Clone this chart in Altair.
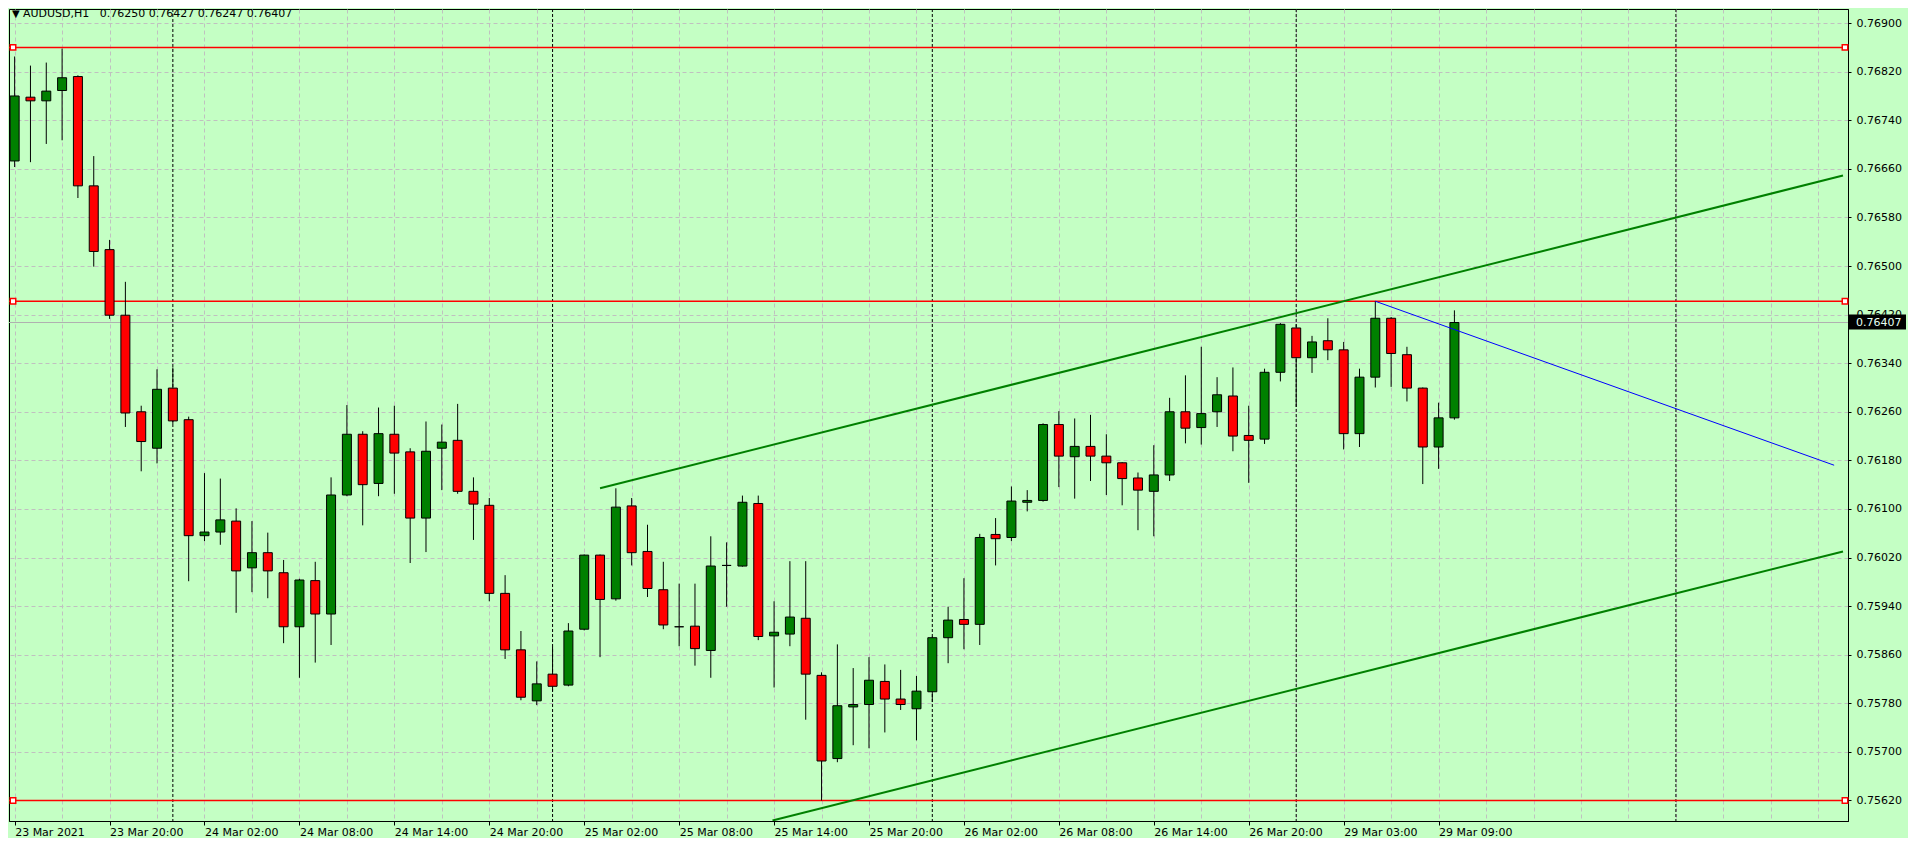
import json
import altair as alt
import pandas as pd

# ---------------- data ----------------
opens = [0.76673, 0.76778, 0.76772, 0.76789, 0.76812, 0.76632, 0.76527, 0.76419, 0.76260, 0.76200,
         0.76299, 0.76247, 0.76056, 0.76062, 0.76080, 0.76003, 0.76028, 0.75995, 0.75906, 0.75982,
         0.75927, 0.76123, 0.76223, 0.76142, 0.76223, 0.76194, 0.76085, 0.76200, 0.76213, 0.76129,
         0.76106, 0.75961, 0.75868, 0.75784, 0.75828, 0.75810, 0.75902, 0.76024, 0.75952, 0.76105,
         0.76030, 0.75967, 0.75906, 0.75907, 0.75867, 0.76007, 0.76006, 0.76109, 0.75891, 0.75894,
         0.75920, 0.75826, 0.75689, 0.75774, 0.75778, 0.75816, 0.75787, 0.75771, 0.75799, 0.75888,
         0.75918, 0.75910, 0.76058, 0.76053, 0.76111, 0.76114, 0.76239, 0.76186, 0.76203, 0.76187,
         0.76176, 0.76151, 0.76129, 0.76156, 0.76260, 0.76234, 0.76260, 0.76286, 0.76221, 0.76215,
         0.76325, 0.76398, 0.76349, 0.76377, 0.76362, 0.76224, 0.76317, 0.76414, 0.76354, 0.76299,
         0.76202, 0.76250]
highs = [0.76845, 0.76830, 0.76835, 0.76858, 0.76814, 0.76681, 0.76543, 0.76474, 0.76270, 0.76330,
         0.76333, 0.76252, 0.76159, 0.76150, 0.76101, 0.76080, 0.76061, 0.76016, 0.75985, 0.76013,
         0.76152, 0.76271, 0.76228, 0.76267, 0.76270, 0.76200, 0.76244, 0.76239, 0.76273, 0.76152,
         0.76118, 0.75991, 0.75899, 0.75849, 0.75873, 0.75912, 0.76025, 0.76025, 0.76134, 0.76118,
         0.76074, 0.76013, 0.75977, 0.75977, 0.76055, 0.76045, 0.76122, 0.76122, 0.75948, 0.76014,
         0.76014, 0.75831, 0.75877, 0.75838, 0.75856, 0.75844, 0.75835, 0.75825, 0.75890, 0.75939,
         0.75986, 0.76059, 0.76085, 0.76137, 0.76131, 0.76241, 0.76261, 0.76249, 0.76255, 0.76223,
         0.76177, 0.76160, 0.76205, 0.76283, 0.76320, 0.76367, 0.76317, 0.76333, 0.76270, 0.76331,
         0.76406, 0.76404, 0.76385, 0.76414, 0.76375, 0.76331, 0.76442, 0.76416, 0.76367, 0.76300,
         0.76275, 0.76427]
lows = [0.76663, 0.76671, 0.76701, 0.76707, 0.76612, 0.76499, 0.76413, 0.76235, 0.76162, 0.76175,
        0.76240, 0.75981, 0.76047, 0.76041, 0.75929, 0.75963, 0.75953, 0.75879, 0.75822, 0.75847,
        0.75876, 0.76121, 0.76073, 0.76121, 0.76125, 0.76011, 0.76029, 0.76131, 0.76125, 0.76049,
        0.75948, 0.75853, 0.75785, 0.75777, 0.75800, 0.75808, 0.75900, 0.75856, 0.75949, 0.76007,
        0.75955, 0.75902, 0.75874, 0.75842, 0.75822, 0.75939, 0.76005, 0.75884, 0.75806, 0.75874,
        0.75753, 0.75620, 0.75683, 0.75711, 0.75706, 0.75732, 0.75769, 0.75719, 0.75782, 0.75846,
        0.75869, 0.75876, 0.76007, 0.76047, 0.76096, 0.76112, 0.76136, 0.76117, 0.76146, 0.76123,
        0.76106, 0.76065, 0.76055, 0.76146, 0.76208, 0.76206, 0.76235, 0.76195, 0.76143, 0.76207,
        0.76310, 0.76268, 0.76324, 0.76345, 0.76198, 0.76202, 0.76300, 0.76301, 0.76277, 0.76141,
        0.76166, 0.76247]
closes = [0.76780, 0.76772, 0.76788, 0.76810, 0.76632, 0.76524, 0.76419, 0.76258, 0.76211, 0.76297,
          0.76245, 0.76056, 0.76062, 0.76082, 0.75998, 0.76028, 0.75998, 0.75906, 0.75983, 0.75927,
          0.76123, 0.76223, 0.76140, 0.76224, 0.76192, 0.76085, 0.76195, 0.76210, 0.76129, 0.76108,
          0.75961, 0.75868, 0.75790, 0.75812, 0.75808, 0.75899, 0.76024, 0.75951, 0.76103, 0.76028,
          0.75969, 0.75909, 0.75906, 0.75870, 0.76006, 0.76007, 0.76111, 0.75890, 0.75897, 0.75922,
          0.75828, 0.75685, 0.75776, 0.75778, 0.75818, 0.75787, 0.75778, 0.75800, 0.75888, 0.75917,
          0.75910, 0.76053, 0.76051, 0.76113, 0.76114, 0.76239, 0.76187, 0.76203, 0.76187, 0.76176,
          0.76150, 0.76131, 0.76156, 0.76260, 0.76233, 0.76257, 0.76288, 0.76220, 0.76213, 0.76325,
          0.76404, 0.76349, 0.76375, 0.76362, 0.76224, 0.76317, 0.76414, 0.76356, 0.76299, 0.76202,
          0.76250, 0.76407]

symbol = "AUDUSD,H1"
tick_labels = ["23 Mar 2021", "23 Mar 20:00", "24 Mar 02:00", "24 Mar 08:00", "24 Mar 14:00",
               "24 Mar 20:00", "25 Mar 02:00", "25 Mar 08:00", "25 Mar 14:00", "25 Mar 20:00",
               "26 Mar 02:00", "26 Mar 08:00", "26 Mar 14:00", "26 Mar 20:00", "29 Mar 03:00",
               "29 Mar 09:00"]
label_every = 6          # bars between time labels
grid_every = 3           # bars between vertical grid lines
day_starts = [10, 34, 58, 81, 105]     # first bar of each new day
price_ticks = [round(0.75620 + 0.0008 * k, 5) for k in range(17)]
red_levels = [0.76860, 0.76442, 0.75620]
upper_x = [37, 115.56]
upper_p = [0.76134, 0.76649]
lower_x = [47.9, 115.56]
lower_p = [0.75587, 0.76030]
blue_x = [86, 115]
blue_p = [0.76442, 0.76172]

# ---------------- layout / style ----------------
X_DOMAIN = [-0.04, 115.56]
Y_DOMAIN = [0.755862, 0.769232]
W, H = 1839, 812
BG = "#C4FFC4"
BULL, BEAR = "#008000", "#FF0000"
GRID = "#C0C0C0"
FONT = "DejaVu Sans"

df = pd.DataFrame({"i": list(range(len(opens))), "open": opens, "high": highs,
                   "low": lows, "close": closes})
df["dir"] = ["up" if c >= o else "down" for o, c in zip(opens, closes)]

xs = alt.Scale(domain=X_DOMAIN, nice=False, zero=False)
ys = alt.Scale(domain=Y_DOMAIN, nice=False, zero=False)

n_labels = len(tick_labels)
last_label = (n_labels - 1) * label_every
label_expr = (f"datum.value % {label_every} === 0 && datum.value <= {last_label} ? "
              f"{json.dumps(tick_labels)}[datum.value / {label_every}] : ''")
x_axis = alt.Axis(values=list(range(0, int(X_DOMAIN[1]) + 1, grid_every)), grid=True,
                  gridColor=GRID, gridDash=[4, 3], gridWidth=1,
                  domainColor="black", domainWidth=1, tickColor="black", tickSize=4,
                  tickOpacity={"condition": {"test": f"datum.value % {label_every} === 0 && datum.value <= {last_label}",
                                             "value": 1}, "value": 0},
                  labelExpr=label_expr, labelAlign="left", labelBaseline="top", labelPadding=1,
                  labelFont=FONT, labelFontSize=11, labelColor="black", labelOverlap=False,
                  labelFlush=False, labelBound=False, title=None)
y_axis = alt.Axis(orient="right", values=price_ticks, format=".5f", grid=True, gridColor=GRID,
                  gridDash=[4, 3], gridWidth=1, domainColor="black", domainWidth=1,
                  tickColor="black", tickSize=3, labelPadding=5, labelFont=FONT, labelFontSize=11,
                  labelColor="black", labelOverlap=False, labelFlush=False, labelBound=False,
                  title=None)

X = alt.X("i:Q", scale=xs, axis=x_axis, title=None)


def Yf(field):
    return alt.Y(f"{field}:Q", scale=ys, axis=y_axis, title=None)


base = alt.Chart(df)

cur_df = pd.DataFrame({"p": [closes[-1]], "t": [f"{closes[-1]:.5f}"]})
cur_line = alt.Chart(cur_df).mark_rule(color="#B0B0B0", strokeWidth=1).encode(y=Yf("p"))

seps = alt.Chart(pd.DataFrame({"i": day_starts})).mark_rule(
    color="black", strokeWidth=1, strokeDash=[3, 2], clip=True).encode(x=X)

red_df = pd.DataFrame({"p": red_levels})
red_rules = alt.Chart(red_df).mark_rule(color="#FF0000", strokeWidth=1.5).encode(y=Yf("p"))

wicks = base.mark_rule(color="black", strokeWidth=1, clip=True).encode(
    x=X, y=Yf("low"), y2="high:Q")
bodies = base.mark_bar(size=9, stroke="black", strokeWidth=1, clip=True).encode(
    x=X, y=Yf("open"), y2="close:Q",
    color=alt.Color("dir:N", scale=alt.Scale(domain=["up", "down"], range=[BULL, BEAR]),
                    legend=None))

upper = alt.Chart(pd.DataFrame({"i": upper_x, "p": upper_p})).mark_line(
    color="#008000", strokeWidth=2, clip=True).encode(x=X, y=Yf("p"))
lower = alt.Chart(pd.DataFrame({"i": lower_x, "p": lower_p})).mark_line(
    color="#008000", strokeWidth=2, clip=True).encode(x=X, y=Yf("p"))
blue = alt.Chart(pd.DataFrame({"i": blue_x, "p": blue_p})).mark_line(
    color="#0000FF", strokeWidth=1, clip=True).encode(x=X, y=Yf("p"))

sq_left = alt.Chart(red_df).mark_point(shape="square", size=30, filled=True, fill="white",
                                       stroke="#FF0000", strokeWidth=1.5, opacity=1).encode(
    x=alt.value(4), y=Yf("p"))
sq_right = alt.Chart(red_df).mark_point(shape="square", size=30, filled=True, fill="white",
                                        stroke="#FF0000", strokeWidth=1.5, opacity=1).encode(
    x=alt.value(W - 3), y=Yf("p"))

title_str = (f"{symbol}\u00a0\u00a0 {opens[-1]:.5f} {highs[-1]:.5f} "
             f"{lows[-1]:.5f} {closes[-1]:.5f}")
title_df = pd.DataFrame({"t": [title_str]})
tri_df = pd.DataFrame({"m": ["\u25BC"]})
tri = alt.Chart(tri_df).mark_text(align="left", baseline="middle", font=FONT, fontSize=10,
                                  color="black").encode(
    x=alt.value(3), y=alt.value(5), text="m:N", size=alt.value(10))
title = alt.Chart(title_df).mark_text(align="left", baseline="middle", font=FONT, fontSize=11,
                                      color="black").encode(
    x=alt.value(14), y=alt.value(5), text="t:N", size=alt.value(11))

box = alt.Chart(cur_df).mark_rect(color="black", yOffset=-8, y2Offset=7).encode(
    x=alt.value(W + 1), x2=alt.value(W + 58), y=Yf("p"), y2="p:Q")
box_text = alt.Chart(cur_df).mark_text(align="left", baseline="middle", font=FONT, fontSize=11,
                                       color="#E6FFF2").encode(
    x=alt.value(W + 8), y=Yf("p"), text="t:N")

chart = alt.layer(
    cur_line, seps, red_rules, wicks, bodies, upper, lower, blue,
    sq_left, sq_right, tri, title, box, box_text
).properties(
    width=W, height=H, autosize="none",
    padding={"left": 1, "top": 1, "right": 60, "bottom": 17}
).configure(background=BG).configure_view(fill=BG, stroke="black", strokeWidth=1)

chart.save("out.html", embed_options={"renderer": "svg", "actions": False})
